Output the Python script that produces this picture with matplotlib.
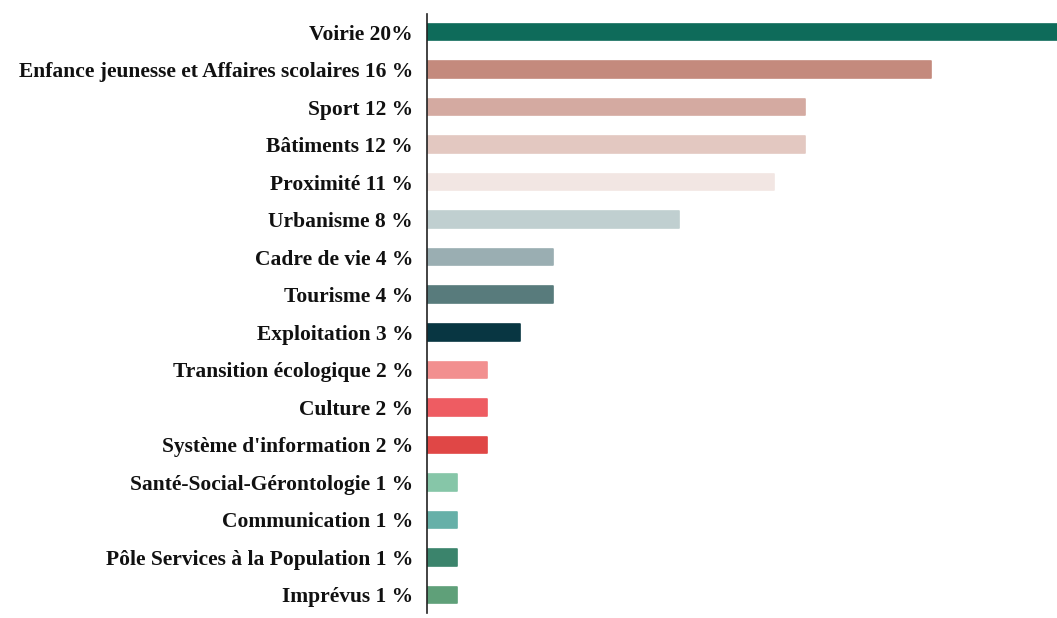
import matplotlib
matplotlib.use("Agg")
import matplotlib.pyplot as plt

categories = [
    "Voirie", "Enfance jeunesse et Affaires scolaires", "Sport", "Bâtiments",
    "Proximité", "Urbanisme", "Cadre de vie", "Tourisme", "Exploitation",
    "Transition écologique", "Culture", "Système d'information",
    "Santé-Social-Gérontologie", "Communication", "Pôle Services à la Population",
    "Imprévus",
]
pct_labels = ["20%", "16 %", "12 %", "12 %", "11 %", "8 %", "4 %", "4 %", "3 %",
              "2 %", "2 %", "2 %", "1 %", "1 %", "1 %", "1 %"]
values = [20.0, 16.0, 12.0, 12.0, 11.0, 8.0, 4.0, 4.0, 2.95, 1.9, 1.9, 1.9,
          0.95, 0.95, 0.95, 0.95]
colors = ["#0e6b5a", "#c48a7d", "#d4aaa1", "#e3c8c1", "#f2e6e3", "#c0cfd0",
          "#9aaeb2", "#587b7c", "#083642", "#f28f8f", "#ee5c62", "#e04746",
          "#86c6a8", "#66b0a8", "#3b846c", "#5fa079"]

fig = plt.figure(figsize=(10.57, 6.18), dpi=100)
ax = fig.add_axes([427 / 1057, 1 - 613 / 618, 1 - 427 / 1057, (613 - 14) / 618])

ypos = list(range(len(categories)))
bars = ax.barh(ypos, values, height=0.44, color=colors, edgecolor=colors,
               linewidth=1.2)
for b in bars:
    b.set_joinstyle("round")

ax.set_xlim(0, 20)
ax.set_ylim(len(categories) - 0.52, -0.48)
labels = [f"{c} {p}" for c, p in zip(categories, pct_labels)]
ax.set_yticks(ypos)
ax.set_yticklabels(labels, fontfamily="Liberation Serif", fontweight="bold",
                   fontsize=15.5, color="#111111")
ax.tick_params(axis="y", length=0, pad=10)
ax.set_xticks([])
for s in ["top", "right", "bottom"]:
    ax.spines[s].set_visible(False)
ax.spines["left"].set_color("#222222")
ax.spines["left"].set_linewidth(1.2)

fig.savefig("out.png", dpi=100)
